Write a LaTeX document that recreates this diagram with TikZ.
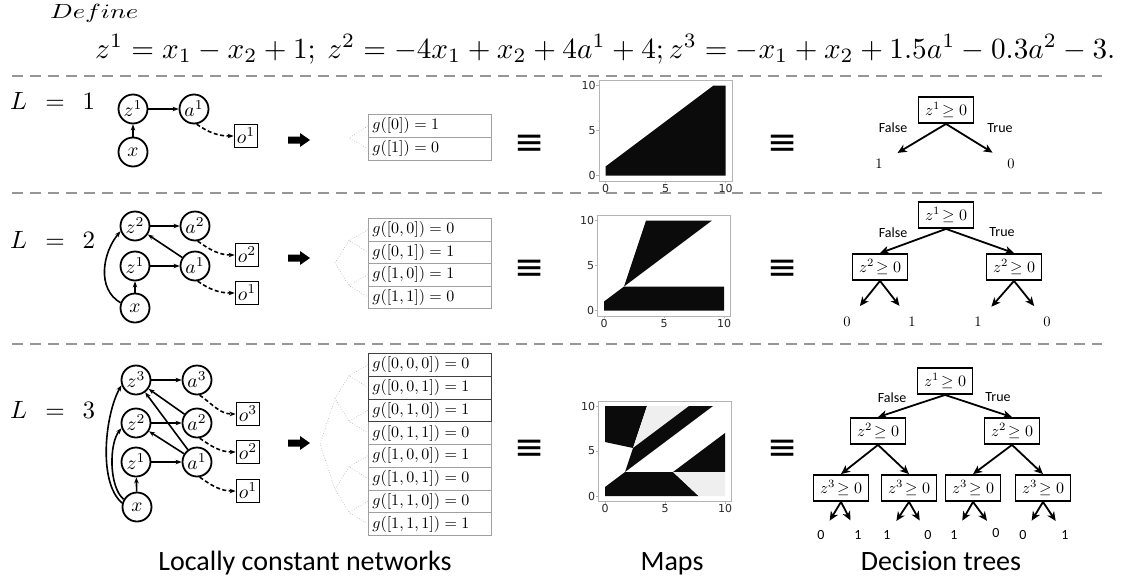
\RequirePackage{fix-cm}
\documentclass[tikz,border=0pt]{standalone}
\usepackage{fontspec}
\setmainfont{Carlito}
\newfontfamily\djv{DejaVu Sans}
\usepackage{graphicx}
\usetikzlibrary{arrows.meta}
\newcommand{\mscale}[2]{\scalebox{#1}{\fontsize{10}{12}\selectfont$#2$}}
\definecolor{sepgray}{HTML}{969696}
\definecolor{tabgray}{HTML}{A0A0A0}
\definecolor{tabdark}{HTML}{404040}
\definecolor{fangray}{HTML}{A8A8A8}
\definecolor{mapblack}{HTML}{0B0B0B}
\definecolor{maplight}{HTML}{EFEFEF}
\definecolor{framegray}{HTML}{B4B4B4}
\definecolor{ticktext}{HTML}{262626}
\tikzset{
  sepline/.style={draw=sepgray, line width=2pt, dash pattern=on 11pt off 7pt},
  llab/.style={anchor=west, inner sep=0pt},
  nd/.style={circle, draw, line width=1.8pt, minimum size=29pt, inner sep=0pt},
  ob/.style={rectangle, draw, line width=1.8pt, minimum size=23pt, inner sep=0pt},
  ne/.style={line width=1.6pt, -{Stealth[length=6pt,width=4.5pt]}},
  nedash/.style={ne, dash pattern=on 4pt off 2.5pt},
  tabrow/.style={draw=tabgray, line width=0.8pt, anchor=north west, minimum width=123pt, text width=115pt, inner xsep=4pt, inner ysep=0pt, align=left},
  fanline/.style={draw=fangray, line width=0.6pt, dotted},
  eqv/.style={inner sep=0pt, font=\djv\fontsize{36}{36}\selectfont},
  mapframe/.style={draw=framegray, line width=0.8pt},
  ticklab/.style={inner sep=0.5pt, text=ticktext, font=\djv\fontsize{11}{11}\selectfont},
  tb/.style={draw, line width=1.8pt, minimum width=55pt, minimum height=26pt, inner sep=2pt},
  ta/.style={line width=1.8pt, -{Stealth[length=9pt,width=8pt,inset=2.5pt]}},
  lf/.style={inner sep=1pt, font=\fontsize{14}{14}\selectfont},
  tf/.style={inner sep=0pt, font=\fontsize{14}{14}\selectfont},
  captxt/.style={inner sep=0pt, anchor=base, font=\fontsize{28}{30}\selectfont},
  mapaxes/.pic={
    \draw[mapframe] (-0.55,-0.6) rectangle (10.55,10.55);
    \foreach \v in {0,5,10} {
      \draw[mapframe] (\v,-0.6) -- ++(0pt,-2.5pt);
      \node[ticklab,anchor=north,yshift=-2.5pt] at (\v,-0.6) {\v};
      \draw[mapframe] (-0.55,\v) -- ++(-2.5pt,0pt);
      \node[ticklab,anchor=east,xshift=-2.5pt] at (-0.55,\v) {\v};
    }
  }
}
\begin{document}
\begin{tikzpicture}[x=1pt,y=-1pt]
\useasboundingbox (0,0) rectangle (1121,581);

% header
\node[anchor=base west,inner sep=0pt] (def) at (50,18) {\scalebox{2.65}[2.05]{\fontsize{10}{12}\selectfont$Define$}};
\node[anchor=base west,inner sep=0pt] (eq) at (95,58) {\resizebox{1020pt}{!}{\fontsize{10}{12}\selectfont$z^1 = x_1 - x_2 + 1;\ z^2 = -4x_1 + x_2 + 4a^1 + 4; z^3 = -x_1 + x_2 + 1.5a^1 - 0.3a^2 - 3.$}};

% separators
\foreach \yy in {76,192.5,343.5} \draw[sepline] (12,\yy) -- (1102,\yy);

% row labels
\node[llab] (L1) at (10,101) {\mscale{2.5}{L\;\,=\;\,1}};
\node[llab] (L2) at (10,240) {\mscale{2.5}{L\;\,=\;\,2}};
\node[llab] (L3) at (10,410) {\mscale{2.5}{L\;\,=\;\,3}};

% ---------- networks ----------
% L = 1
\node[nd] (n1z1) at (133,109) {\mscale{1.95}{z^1}};
\node[nd] (n1a1) at (194,109) {\mscale{1.95}{a^1}};
\node[nd] (n1x) at (133,152) {\mscale{1.95}{x}};
\node[ob] (n1o1) at (246,136) {\mscale{1.95}{o^1}};
\draw[ne] (n1z1) -- (n1a1);
\draw[ne] (n1x) -- (n1z1);
\draw[nedash] (n1a1.-80) to[out=-35,in=180] (n1o1.west);

% L = 2
\node[nd] (n2z2) at (135,226) {\mscale{1.95}{z^2}};
\node[nd] (n2a2) at (195,226) {\mscale{1.95}{a^2}};
\node[nd] (n2z1) at (135,266) {\mscale{1.95}{z^1}};
\node[nd] (n2a1) at (195,266) {\mscale{1.95}{a^1}};
\node[nd] (n2x) at (135,308) {\mscale{1.95}{x}};
\node[ob] (n2o2) at (247,255) {\mscale{1.95}{o^2}};
\node[ob] (n2o1) at (247,293) {\mscale{1.95}{o^1}};
\draw[ne] (n2z2) -- (n2a2);
\draw[ne] (n2z1) -- (n2a1);
\draw[ne] (n2a1) -- (n2z2);
\draw[ne] (n2x) -- (n2z1);
\draw[ne] (n2x.160) to[out=150,in=-130] (n2z2.200);
\draw[nedash] (n2a2.-80) to[out=-35,in=180] (n2o2.west);
\draw[nedash] (n2a1.-80) to[out=-35,in=180] (n2o1.west);

% L = 3
\node[nd] (n3z3) at (136,380) {\mscale{1.95}{z^3}};
\node[nd] (n3a3) at (197,380) {\mscale{1.95}{a^3}};
\node[nd] (n3z2) at (136,423) {\mscale{1.95}{z^2}};
\node[nd] (n3a2) at (197,423) {\mscale{1.95}{a^2}};
\node[nd] (n3z1) at (136,462) {\mscale{1.95}{z^1}};
\node[nd] (n3a1) at (197,462) {\mscale{1.95}{a^1}};
\node[nd] (n3x) at (137,507) {\mscale{1.95}{x}};
\node[ob] (n3o3) at (248,414) {\mscale{1.95}{o^3}};
\node[ob] (n3o2) at (248,452) {\mscale{1.95}{o^2}};
\node[ob] (n3o1) at (248,491) {\mscale{1.95}{o^1}};
\draw[ne] (n3z3) -- (n3a3);
\draw[ne] (n3z2) -- (n3a2);
\draw[ne] (n3z1) -- (n3a1);
\draw[ne] (n3x) -- (n3z1);
\draw[ne] (n3a2) -- (n3z3);
\draw[ne] (n3a1) -- (n3z3);
\draw[ne] (n3a1) -- (n3z2);
\draw[ne] (n3x.165) to[out=140,in=-120,looseness=0.7] (n3z3.200);
\draw[ne] (n3x.150) to[out=140,in=-130,looseness=0.7] (n3z2.200);
\draw[nedash] (n3a3.-80) to[out=-35,in=180] (n3o3.west);
\draw[nedash] (n3a2.-80) to[out=-35,in=180] (n3o2.west);
\draw[nedash] (n3a1.-80) to[out=-35,in=180] (n3o1.west);

% big arrows
\foreach \yy in {140,258,443}
  \fill (288,{\yy-3.5}) -- (300,{\yy-3.5}) -- (300,{\yy-7}) -- (310,\yy) -- (300,{\yy+7}) -- (300,{\yy+3.5}) -- (288,{\yy+3.5}) -- cycle;

% ---------- tables ----------
% L = 1
\node[tabrow, minimum height=23pt] (t1r1) at (368,114) {\mscale{1.6}{g([0]) = 1}};
\node[tabrow, minimum height=23pt] (t1r2) at (368,137) {\mscale{1.6}{g([1]) = 0}};
\coordinate (f1r) at (349,138);
\draw[fanline] (t1r1.west) -- (f1r) -- (t1r2.west);

% L = 2
\node[tabrow, minimum height=22.5pt] (t2r1) at (368,218) {\mscale{1.6}{g([0,0]) = 0}};
\node[tabrow, minimum height=22.5pt] (t2r2) at (368,240.5) {\mscale{1.6}{g([0,1]) = 1}};
\node[tabrow, minimum height=22.5pt] (t2r3) at (368,263) {\mscale{1.6}{g([1,0]) = 1}};
\node[tabrow, minimum height=22.5pt] (t2r4) at (368,285.5) {\mscale{1.6}{g([1,1]) = 0}};
\coordinate (f2r) at (335,263);
\coordinate (f2a) at (349,240.5);
\coordinate (f2b) at (349,285.5);
\draw[fanline] (t2r1.west) -- (f2a) -- (t2r2.west);
\draw[fanline] (t2r3.west) -- (f2b) -- (t2r4.west);
\draw[fanline] (f2a) -- (f2r) -- (f2b);

% L = 3
\node[tabrow, minimum height=22.75pt] (t3r4) at (368,421.25) {\mscale{1.6}{g([0,1,1]) = 0}};
\node[tabrow, minimum height=22.75pt] (t3r5) at (368,444) {\mscale{1.6}{g([1,0,0]) = 1}};
\node[tabrow, minimum height=22.75pt] (t3r6) at (368,466.75) {\mscale{1.6}{g([1,0,1]) = 0}};
\node[tabrow, minimum height=22.75pt] (t3r7) at (368,489.5) {\mscale{1.6}{g([1,1,0]) = 0}};
\node[tabrow, minimum height=22.75pt] (t3r8) at (368,512.25) {\mscale{1.6}{g([1,1,1]) = 1}};
\node[tabrow, draw=tabdark, minimum height=22.75pt] (t3r1) at (368,353) {\mscale{1.6}{g([0,0,0]) = 0}};
\node[tabrow, draw=tabdark, minimum height=22.75pt] (t3r2) at (368,375.75) {\mscale{1.6}{g([0,0,1]) = 1}};
\node[tabrow, draw=tabdark, minimum height=22.75pt] (t3r3) at (368,398.5) {\mscale{1.6}{g([0,1,0]) = 1}};
\coordinate (f3r) at (320,444);
\coordinate (f3a) at (335,398.5);
\coordinate (f3b) at (335,489.5);
\coordinate (f3aa) at (349,375.75);
\coordinate (f3ab) at (349,421.25);
\coordinate (f3ba) at (349,466.75);
\coordinate (f3bb) at (349,512.25);
\draw[fanline] (t3r1.west) -- (f3aa) -- (t3r2.west);
\draw[fanline] (t3r3.west) -- (f3ab) -- (t3r4.west);
\draw[fanline] (t3r5.west) -- (f3ba) -- (t3r6.west);
\draw[fanline] (t3r7.west) -- (f3bb) -- (t3r8.west);
\draw[fanline] (f3aa) -- (f3a) -- (f3ab);
\draw[fanline] (f3ba) -- (f3b) -- (f3bb);
\draw[fanline] (f3a) -- (f3r) -- (f3b);

% ---------- equivalences ----------
\node[eqv] (e1a) at (530,145) {≡};
\node[eqv] (e1b) at (783,145) {≡};
\node[eqv] (e2a) at (530,270) {≡};
\node[eqv] (e2b) at (783,270) {≡};
\node[eqv] (e3a) at (530,450) {≡};
\node[eqv] (e3b) at (783,450) {≡};

% ---------- maps ----------
\begin{scope}[shift={(605.5,175.5)},x=12pt,y=9pt]
  \fill[mapblack] (0,0) -- (0,1) -- (9,10) -- (10,10) -- (10,0) -- cycle;
  \pic {mapaxes};
\end{scope}
\begin{scope}[shift={(604,310.5)},x=12pt,y=9pt]
  \fill[mapblack] (0,0) -- (0,1) -- (1.667,2.667) -- (10,2.667) -- (10,0) -- cycle;
  \fill[mapblack] (1.667,2.667) -- (3.5,10) -- (9,10) -- cycle;
  \pic {mapaxes};
\end{scope}
\begin{scope}[shift={(605,496)},x=12pt,y=9pt]
  \fill[mapblack] (0,6) -- (0,10) -- (3.5,10) -- (2.333,5.333) -- cycle;
  \fill[maplight] (2.333,5.333) -- (3.5,10) -- (7,10) -- cycle;
  \fill[mapblack] (1.667,2.667) -- (2.333,5.333) -- (7,10) -- (9,10) -- cycle;
  \fill[mapblack] (5.667,2.667) -- (10,2.667) -- (10,7) -- cycle;
  \fill[mapblack] (0,0) -- (0,1) -- (1.667,2.667) -- (5.667,2.667) -- (7.8,0) -- cycle;
  \fill[maplight] (5.667,2.667) -- (10,2.667) -- (10,0) -- (7.8,0) -- cycle;
  \pic {mapaxes};
\end{scope}

% ---------- decision trees ----------
% L = 1
\node[tb] (r1) at (946,110) {\mscale{1.6}{z^1\!\geq 0}};
\node[lf] (r1l) at (879,164) {\mscale{1.45}{1}};
\node[lf] (r1r) at (1011,164) {\mscale{1.45}{0}};
\draw[ta,shorten >=16pt] (r1.south) -- (r1l);
\draw[ta,shorten >=16pt] (r1.south) -- (r1r);
\node[tf] (f1) at (893,128) {False};
\node[tf] (t1) at (1000,128) {True};

% L = 2
\node[tb] (r2) at (946,215) {\mscale{1.6}{z^1\!\geq 0}};
\node[tb] (r2a) at (880,267) {\mscale{1.6}{z^2\!\geq 0}};
\node[tb] (r2b) at (1014,267) {\mscale{1.6}{z^2\!\geq 0}};
\draw[ta] (r2.south) -- (r2a.north);
\draw[ta] (r2.south) -- (r2b.north);
\node[tf] (f2) at (893,233) {False};
\node[tf] (t2) at (1002,232) {True};
\node[lf] (l2a) at (847,322) {\mscale{1.45}{0}};
\node[lf] (l2b) at (912,322) {\mscale{1.45}{1}};
\node[lf] (l2c) at (978,322) {\mscale{1.45}{1}};
\node[lf] (l2d) at (1047,322) {\mscale{1.45}{0}};
\draw[ta,shorten >=13pt] (r2a.south) -- (l2a);
\draw[ta,shorten >=13pt] (r2a.south) -- (l2b);
\draw[ta,shorten >=13pt] (r2b.south) -- (l2c);
\draw[ta,shorten >=13pt] (r2b.south) -- (l2d);

% L = 3
\node[tb] (r3) at (945,381) {\mscale{1.6}{z^1\!\geq 0}};
\node[tb] (r3a) at (878,431) {\mscale{1.6}{z^2\!\geq 0}};
\node[tb] (r3b) at (1012,431) {\mscale{1.6}{z^2\!\geq 0}};
\node[tb] (r3aa) at (841,488) {\mscale{1.6}{z^3\!\geq 0}};
\node[tb] (r3ab) at (909,488) {\mscale{1.6}{z^3\!\geq 0}};
\node[tb] (r3ba) at (973,488) {\mscale{1.6}{z^3\!\geq 0}};
\node[tb] (r3bb) at (1043,488) {\mscale{1.6}{z^3\!\geq 0}};
\draw[ta] (r3.south) -- (r3a.north);
\draw[ta] (r3.south) -- (r3b.north);
\draw[ta] (r3a.south) -- (r3aa.north);
\draw[ta] (r3a.south) -- (r3ab.north);
\draw[ta] (r3b.south) -- (r3ba.north);
\draw[ta] (r3b.south) -- (r3bb.north);
\node[tf] (f3) at (892,398) {False};
\node[tf] (t3) at (998,397) {True};
\node[lf] (l3a) at (821,535) {0};
\node[lf] (l3b) at (858,535) {1};
\node[lf] (l3c) at (887,535) {1};
\node[lf] (l3d) at (928,535) {0};
\node[lf] (l3e) at (954,535) {1};
\node[lf] (l3f) at (996,533) {0};
\node[lf] (l3g) at (1023,535) {0};
\node[lf] (l3h) at (1065,535) {1};
\draw[ta,shorten >=10pt] (r3aa.south) -- (l3a);
\draw[ta,shorten >=10pt] (r3aa.south) -- (l3b);
\draw[ta,shorten >=10pt] (r3ab.south) -- (l3c);
\draw[ta,shorten >=10pt] (r3ab.south) -- (l3d);
\draw[ta,shorten >=10pt] (r3ba.south) -- (l3e);
\draw[ta,shorten >=8pt] (r3ba.south) -- (l3f);
\draw[ta,shorten >=10pt] (r3bb.south) -- (l3g);
\draw[ta,shorten >=10pt] (r3bb.south) -- (l3h);

% ---------- captions ----------
\node[captxt] (c1) at (305,570) {Locally constant networks};
\node[captxt] (c2) at (672,570) {Maps};
\node[captxt] (c3) at (941,570) {Decision trees};
\end{tikzpicture}
\end{document}
